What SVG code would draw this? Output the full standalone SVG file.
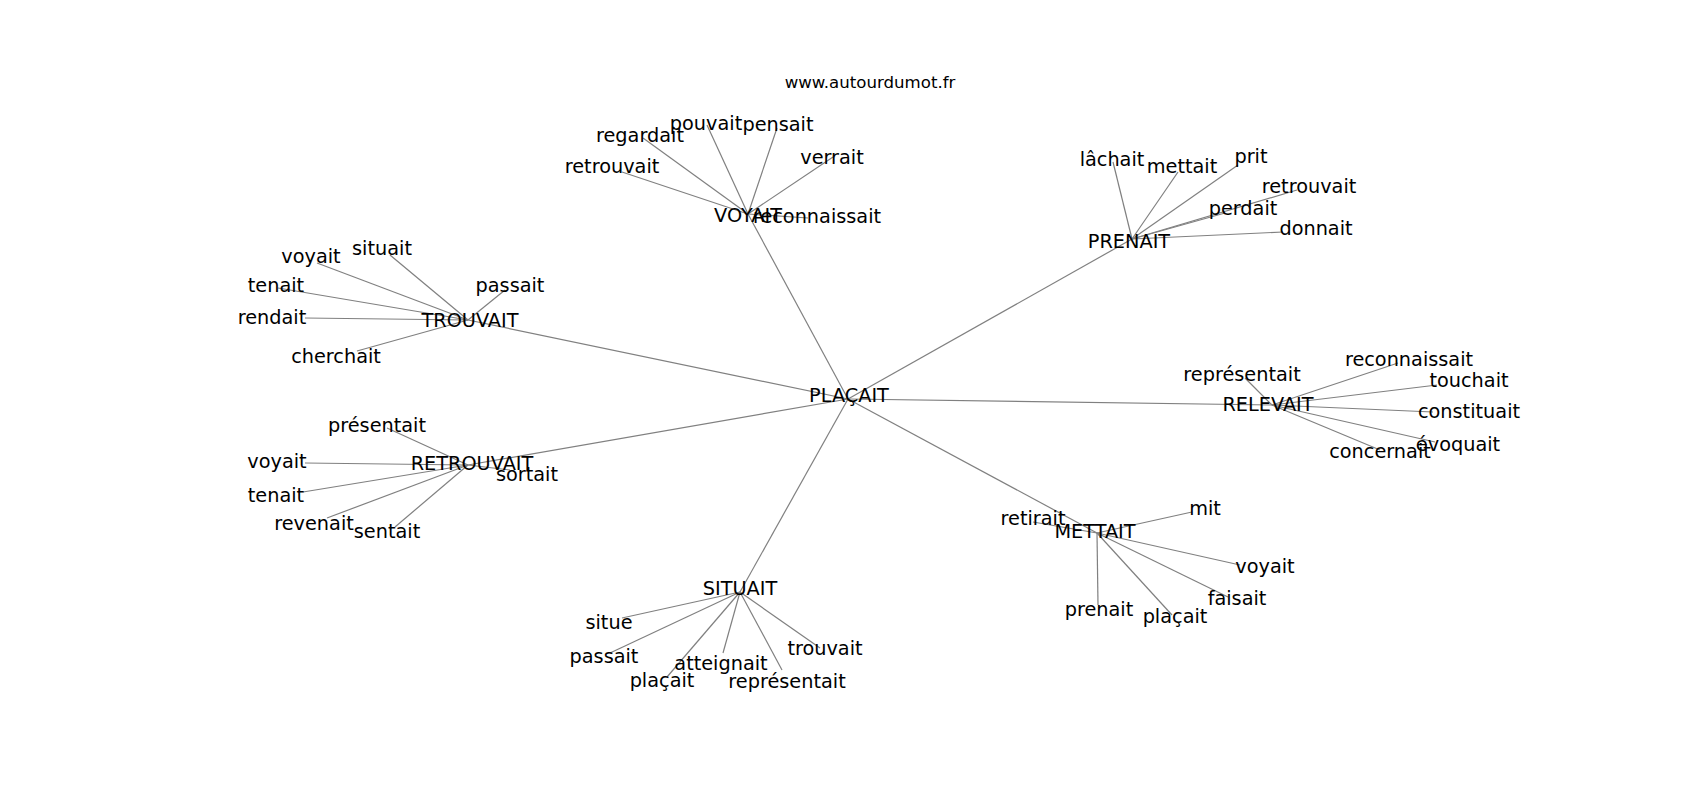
<svg xmlns="http://www.w3.org/2000/svg" width="1700" height="800" viewBox="0 0 1700 800">
<style>
.e{stroke:#808080;stroke-width:1.2;fill:none}
.l{font-family:"DejaVu Sans",sans-serif;font-size:19.3px;fill:#000;text-anchor:middle}
.t{font-family:"DejaVu Sans",sans-serif;font-size:16.6px;fill:#000;text-anchor:middle}
</style>
<rect width="1700" height="800" fill="#fff"/>
<text class="t" x="870" y="88">www.autourdumot.fr</text>
<g id="edges">
<line class="e" x1="848" y1="399" x2="748" y2="214"/>
<line class="e" x1="848" y1="399" x2="1132" y2="239"/>
<line class="e" x1="848" y1="399" x2="468" y2="320"/>
<line class="e" x1="848" y1="399" x2="468" y2="465"/>
<line class="e" x1="848" y1="399" x2="1272" y2="405"/>
<line class="e" x1="848" y1="399" x2="1097" y2="533"/>
<line class="e" x1="848" y1="399" x2="740" y2="592"/>
<line class="e" x1="748" y1="214" x2="622" y2="172"/>
<line class="e" x1="748" y1="214" x2="643" y2="138"/>
<line class="e" x1="748" y1="214" x2="707" y2="125"/>
<line class="e" x1="748" y1="214" x2="777" y2="128"/>
<line class="e" x1="748" y1="214" x2="833" y2="157"/>
<line class="e" x1="748" y1="214" x2="808" y2="218"/>
<line class="e" x1="1132" y1="239" x2="1113" y2="162"/>
<line class="e" x1="1132" y1="239" x2="1178" y2="172"/>
<line class="e" x1="1132" y1="239" x2="1238" y2="165"/>
<line class="e" x1="1132" y1="239" x2="1297" y2="190"/>
<line class="e" x1="1132" y1="239" x2="1225" y2="213"/>
<line class="e" x1="1132" y1="239" x2="1283" y2="232"/>
<line class="e" x1="468" y1="320" x2="390" y2="255"/>
<line class="e" x1="468" y1="320" x2="317" y2="263"/>
<line class="e" x1="468" y1="320" x2="278" y2="288"/>
<line class="e" x1="468" y1="320" x2="305" y2="318"/>
<line class="e" x1="468" y1="320" x2="357" y2="351"/>
<line class="e" x1="468" y1="320" x2="505" y2="290"/>
<line class="e" x1="468" y1="465" x2="387" y2="428"/>
<line class="e" x1="468" y1="465" x2="305" y2="463"/>
<line class="e" x1="468" y1="465" x2="303" y2="492"/>
<line class="e" x1="468" y1="465" x2="327" y2="518"/>
<line class="e" x1="468" y1="465" x2="395" y2="527"/>
<line class="e" x1="468" y1="465" x2="510" y2="470"/>
<line class="e" x1="1272" y1="405" x2="1245" y2="378"/>
<line class="e" x1="1272" y1="405" x2="1398" y2="363"/>
<line class="e" x1="1272" y1="405" x2="1437" y2="385"/>
<line class="e" x1="1272" y1="405" x2="1433" y2="412"/>
<line class="e" x1="1272" y1="405" x2="1435" y2="442"/>
<line class="e" x1="1272" y1="405" x2="1380" y2="450"/>
<line class="e" x1="1097" y1="533" x2="1033" y2="522"/>
<line class="e" x1="1097" y1="533" x2="1192" y2="512"/>
<line class="e" x1="1097" y1="533" x2="1240" y2="565"/>
<line class="e" x1="1097" y1="533" x2="1228" y2="597"/>
<line class="e" x1="1097" y1="533" x2="1098" y2="605"/>
<line class="e" x1="1097" y1="533" x2="1172" y2="615"/>
<line class="e" x1="740" y1="592" x2="622" y2="618"/>
<line class="e" x1="740" y1="592" x2="610" y2="653"/>
<line class="e" x1="740" y1="592" x2="723" y2="653"/>
<line class="e" x1="740" y1="592" x2="667" y2="677"/>
<line class="e" x1="740" y1="592" x2="782" y2="670"/>
<line class="e" x1="740" y1="592" x2="820" y2="648"/>
</g>
<g id="n-placait"><text class="l" x="849" y="402">PLAÇAIT</text></g>
<g id="n-voyait-hub"><text class="l" x="748" y="222">VOYAIT</text></g>
<g id="n-v-retrouvait"><text class="l" x="612" y="173">retrouvait</text></g>
<g id="n-v-regardait"><text class="l" x="640" y="142">regardait</text></g>
<g id="n-v-pouvait"><text class="l" x="706" y="130">pouvait</text></g>
<g id="n-v-pensait"><text class="l" x="778" y="131">pensait</text></g>
<g id="n-v-verrait"><text class="l" x="832" y="164">verrait</text></g>
<g id="n-v-reconnaissait"><text class="l" x="817" y="223">reconnaissait</text></g>
<g id="n-prenait-hub"><text class="l" x="1129" y="248">PRENAIT</text></g>
<g id="n-p-lachait"><text class="l" x="1112" y="166">lâchait</text></g>
<g id="n-p-mettait"><text class="l" x="1182" y="173">mettait</text></g>
<g id="n-p-prit"><text class="l" x="1251" y="163">prit</text></g>
<g id="n-p-retrouvait"><text class="l" x="1309" y="193">retrouvait</text></g>
<g id="n-p-perdait"><text class="l" x="1243" y="215">perdait</text></g>
<g id="n-p-donnait"><text class="l" x="1316" y="235">donnait</text></g>
<g id="n-trouvait-hub"><text class="l" x="470" y="327">TROUVAIT</text></g>
<g id="n-t-situait"><text class="l" x="382" y="255">situait</text></g>
<g id="n-t-voyait"><text class="l" x="311" y="263">voyait</text></g>
<g id="n-t-tenait"><text class="l" x="276" y="292">tenait</text></g>
<g id="n-t-rendait"><text class="l" x="272" y="324">rendait</text></g>
<g id="n-t-cherchait"><text class="l" x="336" y="363">cherchait</text></g>
<g id="n-t-passait"><text class="l" x="510" y="292">passait</text></g>
<g id="n-retrouvait-hub"><text class="l" x="472" y="470">RETROUVAIT</text></g>
<g id="n-r-presentait"><text class="l" x="377" y="432">présentait</text></g>
<g id="n-r-voyait"><text class="l" x="277" y="468">voyait</text></g>
<g id="n-r-tenait"><text class="l" x="276" y="502">tenait</text></g>
<g id="n-r-revenait"><text class="l" x="314" y="530">revenait</text></g>
<g id="n-r-sentait"><text class="l" x="387" y="538">sentait</text></g>
<g id="n-r-sortait"><text class="l" x="527" y="481">sortait</text></g>
<g id="n-relevait-hub"><text class="l" x="1268" y="411">RELEVAIT</text></g>
<g id="n-rl-representait"><text class="l" x="1242" y="381">représentait</text></g>
<g id="n-rl-reconnaissait"><text class="l" x="1409" y="366">reconnaissait</text></g>
<g id="n-rl-touchait"><text class="l" x="1469" y="387">touchait</text></g>
<g id="n-rl-constituait"><text class="l" x="1469" y="418">constituait</text></g>
<g id="n-rl-evoquait"><text class="l" x="1458" y="451">évoquait</text></g>
<g id="n-rl-concernait"><text class="l" x="1380" y="458">concernait</text></g>
<g id="n-mettait-hub"><text class="l" x="1095" y="538">METTAIT</text></g>
<g id="n-m-retirait"><text class="l" x="1033" y="525">retirait</text></g>
<g id="n-m-mit"><text class="l" x="1205" y="515">mit</text></g>
<g id="n-m-voyait"><text class="l" x="1265" y="573">voyait</text></g>
<g id="n-m-faisait"><text class="l" x="1237" y="605">faisait</text></g>
<g id="n-m-prenait"><text class="l" x="1099" y="616">prenait</text></g>
<g id="n-m-placait"><text class="l" x="1175" y="623">plaçait</text></g>
<g id="n-situait-hub"><text class="l" x="740" y="595">SITUAIT</text></g>
<g id="n-s-situe"><text class="l" x="609" y="629">situe</text></g>
<g id="n-s-passait"><text class="l" x="604" y="663">passait</text></g>
<g id="n-s-atteignait"><text class="l" x="721" y="670">atteignait</text></g>
<g id="n-s-placait"><text class="l" x="662" y="687">plaçait</text></g>
<g id="n-s-representait"><text class="l" x="787" y="688">représentait</text></g>
<g id="n-s-trouvait"><text class="l" x="825" y="655">trouvait</text></g>
</svg>
